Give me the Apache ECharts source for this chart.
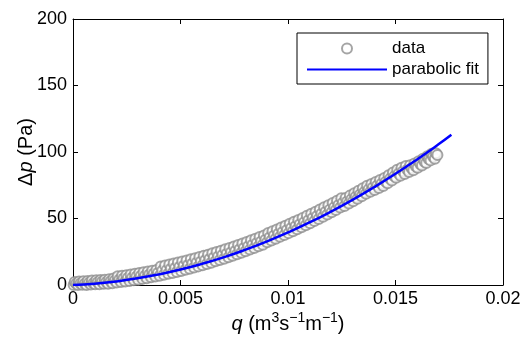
<!DOCTYPE html>
<html>
<head>
<meta charset="utf-8">
<script src="https://cdn.jsdelivr.net/npm/echarts@6/dist/echarts.min.js"></script>
<style>html,body{margin:0;padding:0;background:#fff}#c{width:521px;height:340px}</style>
</head>
<body>
<div id="c"></div>
<script>
// Axis ticks
const xTicks = [0, 0.005, 0.01, 0.015, 0.02];
const yTicks = [0, 50, 100, 150, 200];

// Measured data: flow q (m^3 s^-1 m^-1)
const dataQ = [
0.00003,0.00008,0.00015, 0.00023,0.00028,0.00035, 0.00043,0.00048,0.00055, 0.00063,0.00068,0.00075,
0.00083,0.00088,0.00095, 0.00103,0.00108,0.00115, 0.00123,0.00128,0.00135, 0.00143,0.00148,0.00155,
0.00163,0.00168,0.00175, 0.00183,0.00188,0.00195, 0.00203,0.00208,0.00215, 0.00223,0.00228,0.00235,
0.00243,0.00248,0.00255, 0.00263,0.00268,0.00275, 0.00283,0.00288,0.00295, 0.00303,0.00308,0.00315,
0.00323,0.00328,0.00335, 0.00343,0.00348,0.00355, 0.00363,0.00368,0.00375, 0.00383,0.00388,0.00395,
0.00403,0.00408,0.00415, 0.00423,0.00428,0.00435, 0.00443,0.00448,0.00455, 0.00463,0.00468,0.00475,
0.00483,0.00488,0.00495, 0.00503,0.00508,0.00515, 0.00523,0.00528,0.00535, 0.00543,0.00548,0.00555,
0.00563,0.00568,0.00575, 0.00583,0.00588,0.00595, 0.00603,0.00608,0.00615, 0.00623,0.00628,0.00635,
0.00643,0.00648,0.00655, 0.00663,0.00668,0.00675, 0.00683,0.00688,0.00695, 0.00703,0.00708,0.00715,
0.00723,0.00728,0.00735, 0.00743,0.00748,0.00755, 0.00763,0.00768,0.00775, 0.00783,0.00788,0.00795,
0.00803,0.00808,0.00815, 0.00823,0.00828,0.00835, 0.00843,0.00848,0.00855, 0.00863,0.00868,0.00875,
0.00883,0.00888,0.00895, 0.00903,0.00908,0.00915, 0.00923,0.00928,0.00935, 0.00943,0.00948,0.00955,
0.00963,0.00968,0.00975, 0.00983,0.00988,0.00995, 0.01003,0.01008,0.01015, 0.01023,0.01028,0.01035,
0.01043,0.01048,0.01055, 0.01063,0.01068,0.01075, 0.01083,0.01088,0.01095, 0.01103,0.01108,0.01115,
0.01123,0.01128,0.01135, 0.01143,0.01148,0.01155, 0.01163,0.01168,0.01175, 0.01183,0.01188,0.01195,
0.01203,0.01208,0.01215, 0.01223,0.01228,0.01235, 0.01243,0.01248,0.01255, 0.01263,0.01268,0.01275,
0.01283,0.01288,0.01295, 0.01303,0.01308,0.01315, 0.01323,0.01328,0.01335, 0.01343,0.01348,0.01355,
0.01363,0.01368,0.01375, 0.01383,0.01388,0.01395, 0.01403,0.01408,0.01415, 0.01423,0.01428,0.01435,
0.01443,0.01448,0.01455, 0.01463,0.01468,0.01475, 0.01483,0.01488,0.01495, 0.01503,0.01508,0.01515,
0.01523,0.01528,0.01535, 0.01543,0.01548,0.01555, 0.01563,0.01568,0.01575, 0.01583,0.01588,0.01595,
0.01603,0.01608,0.01615, 0.01623,0.01628,0.01635, 0.01643,0.01648,0.01655, 0.01663,0.01668,0.01675,
0.01683,0.01688,0.01695];
// Measured pressure drop Δp (Pa), same order as dataQ
const dataDp = [
0.0,2.2,0.9, 0.0,2.6,1.2, 0.2,2.8,1.0, 0.0,3.0,1.6,
0.3,3.3,1.4, 0.5,3.5,2.0, 0.6,3.8,2.4, 0.9,4.0,2.2,
1.0,4.4,2.9, 1.4,4.8,3.3, 1.8,6.5,4.0, 2.2,6.9,4.8,
2.6,7.4,5.2, 3.0,7.9,5.4, 3.5,8.4,6.3, 4.0,9.0,6.8,
4.6,9.5,7.0, 5.1,10.1,7.9, 5.8,10.7,8.5, 6.3,11.3,9.0,
7.0,14.0,10.8, 7.7,14.6,11.0, 8.4,15.4,12.2, 9.1,16.1,12.8,
9.8,16.9,13.5, 10.6,17.6,14.5, 11.4,18.4,15.0, 12.2,19.3,16.1,
13.1,20.1,16.8, 14.0,21.0,17.7, 14.9,21.9,18.6, 15.8,22.8,19.5,
16.8,23.8,20.6, 17.8,24.8,21.4, 18.8,25.8,22.6, 19.8,26.8,23.5,
20.9,27.9,24.7, 22.0,29.0,25.6, 23.1,30.1,26.9, 24.2,31.2,27.9,
25.4,32.4,29.2, 26.6,33.6,30.3, 27.8,34.8,31.6, 29.1,36.1,32.8,
30.3,37.3,34.1, 32.1,39.1,35.9, 33.5,40.5,37.2, 34.8,41.8,38.6,
36.2,43.2,39.9, 37.6,44.6,41.3, 39.0,46.0,42.8, 40.5,47.5,44.2,
41.9,48.9,45.7, 43.4,50.4,47.2, 45.0,52.0,48.7, 46.5,53.5,50.3,
48.1,55.1,51.9, 49.7,56.7,53.5, 51.4,58.4,55.1, 53.0,60.0,56.8,
54.7,61.7,58.5, 56.4,63.4,60.2, 58.2,65.2,61.9, 59.4,65.4,62.7,
61.2,67.2,64.5, 63.0,69.0,66.3, 64.9,70.9,68.1, 66.7,72.7,70.0,
68.6,74.6,71.9, 70.1,76.0,73.3, 71.5,77.5,74.8, 73.0,79.0,76.2,
74.5,80.5,77.7, 76.5,82.5,79.8, 78.6,84.5,81.8, 80.6,86.6,83.9,
82.2,88.2,85.5, 83.4,89.4,86.6, 85.0,90.0,87.8, 86.3,91.3,89.1,
88.1,93.1,90.9, 89.9,94.9,92.7, 91.8,96.8,94.6, 93.7,98.7,96.5,
95.0,99.0,97.8];

// Parabolic fit curve
const fitQ  = [0, 0.001, 0.002, 0.003, 0.004, 0.005, 0.006, 0.007, 0.008, 0.009, 0.010, 0.011, 0.012, 0.013, 0.014, 0.015, 0.016, 0.017, 0.0176];
const fitDp = [0, 1.0, 2.7, 5.0, 8.0, 11.6, 15.9, 20.8, 26.4, 32.6, 39.5, 47.0, 55.2, 64.0, 73.5, 83.6, 94.4, 105.8, 113.0];

const FONT = '"Liberation Sans", Arial, Helvetica, sans-serif';
const scatterData = dataQ.map((q, i) => [q, dataDp[i]]);
const fitData = fitQ.map((q, i) => [q, fitDp[i]]);

const axisLine = {show: true, onZero: false, lineStyle: {color: '#000', width: 1}};
const tick = {show: true, inside: true, length: 5, lineStyle: {color: '#000', width: 1}};
const fmtX = v => String(+v.toFixed(3));

const chart = echarts.init(document.getElementById('c'), null, {renderer: 'canvas'});
chart.setOption({
  animation: false,
  backgroundColor: '#fff',
  textStyle: {fontFamily: FONT},
  grid: {left: 73, right: 18, top: 19, bottom: 55, containLabel: false, outerBoundsMode: 'none'},
  xAxis: [{
    type: 'value', min: xTicks[0], max: xTicks[xTicks.length - 1], interval: 0.005, position: 'bottom',
    axisLine, axisTick: tick, splitLine: {show: false},
    axisLabel: {color: '#000', fontSize: 18, fontFamily: FONT, margin: 5, formatter: fmtX},
    name: '{i|q} (m{s|3}s{s|\u22121}m{s|\u22121})', nameLocation: 'middle', nameGap: 26, nameMoveOverlap: false,
    nameTextStyle: {color: '#000', fontSize: 20, fontFamily: FONT, lineHeight: 26,
      rich: {i: {fontStyle: 'italic', fontSize: 20, fontFamily: FONT, color: '#000', lineHeight: 26},
             s: {fontSize: 14, fontFamily: FONT, color: '#000', lineHeight: 20, verticalAlign: 'top'}}}
  }, {
    type: 'value', min: xTicks[0], max: xTicks[xTicks.length - 1], interval: 0.005, position: 'top',
    axisLine, axisTick: tick, splitLine: {show: false}, axisLabel: {show: false}
  }],
  yAxis: [{
    type: 'value', min: yTicks[0], max: yTicks[yTicks.length - 1], interval: 50, position: 'left',
    axisLine, axisTick: tick, splitLine: {show: false},
    axisLabel: {color: '#000', fontSize: 18, fontFamily: FONT, margin: 6},
    name: '\u0394{i|p} (Pa)', nameLocation: 'middle', nameGap: 37, nameRotate: 90, nameMoveOverlap: false,
    nameTextStyle: {color: '#000', fontSize: 20, fontFamily: FONT,
      rich: {i: {fontStyle: 'italic', fontSize: 20, fontFamily: FONT, color: '#000'}}}
  }, {
    type: 'value', min: yTicks[0], max: yTicks[yTicks.length - 1], interval: 50, position: 'right',
    axisLine, axisTick: tick, splitLine: {show: false}, axisLabel: {show: false}
  }],
  legend: {
    show: true, orient: 'vertical', left: 297, top: 33,
    backgroundColor: '#fff', borderColor: '#000', borderWidth: 1, borderRadius: 0,
    padding: [7, 9, 6, 9], itemGap: 4, itemWidth: 80, itemHeight: 10,
    textStyle: {color: '#000', fontSize: 17, fontFamily: FONT, lineHeight: 16},
    data: [{name: 'data'}, {name: 'parabolic fit', itemStyle: {opacity: 0}}]
  },
  series: [{
    name: 'data', type: 'scatter', data: scatterData,
    symbol: 'emptyCircle', symbolSize: 10,
    itemStyle: {color: '#8f8f8f', borderColor: '#8f8f8f', borderWidth: 1.1}
  }, {
    name: 'parabolic fit', type: 'line', data: fitData, smooth: true,
    showSymbol: false, symbol: 'none',
    lineStyle: {color: '#0000ff', width: 2.5}, itemStyle: {color: '#0000ff'}
  }]
});
</script>
</body>
</html>
